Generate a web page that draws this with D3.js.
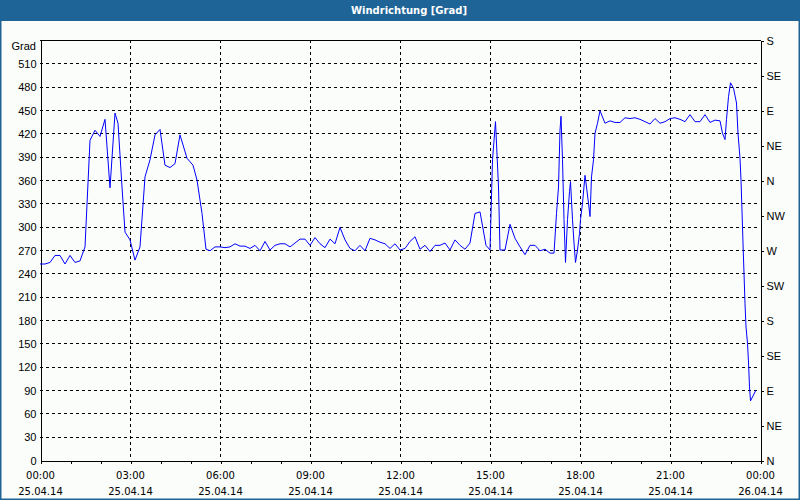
<!DOCTYPE html>
<html lang="de">
<head>
<meta charset="UTF-8">
<title>Windrichtung</title>
<script src="https://d3js.org/d3.v7.min.js"></script>
<style>
  body { margin: 0; background: #fbfdfb; }
  svg text { font-family: "DejaVu Sans", Verdana, sans-serif; font-size: 10px; fill: #000; }
  .grid line { stroke: #000; stroke-dasharray: 3,3; shape-rendering: crispEdges; }
  .axis path, .axis line { stroke: #000; shape-rendering: crispEdges; }
</style>
</head>
<body>
<svg id="chart"></svg>
<script>
// minutes since 25.04.14 00:00, wind direction in degrees
var minutes = [0, 10, 20, 30, 40, 50, 60, 70, 80, 90, 100, 110, 120, 130, 140, 150, 156, 164, 170, 180,
  190, 200, 210, 220, 230, 240, 250, 260, 270, 280, 294, 306, 314, 324, 332, 340, 350,
  360, 370, 380, 390, 400, 410, 420, 430, 440, 450, 460, 470, 480, 490, 500, 510, 520, 530,
  540, 550, 560, 570, 580, 590, 600, 610, 620, 630, 640, 650, 660, 670, 680, 690, 700, 710, 720,
  730, 740, 750, 760, 770, 780, 790, 800, 810, 820, 830, 840, 850, 860, 870, 880, 892, 900,
  905, 911, 917, 920, 930, 940, 950, 960, 970, 980, 990, 1000, 1010, 1020, 1028,
  1033, 1037, 1040, 1042, 1045, 1048, 1051, 1055, 1059, 1061, 1065, 1068, 1071, 1075, 1079,
  1081, 1085, 1090, 1093, 1097, 1100, 1103, 1107, 1110, 1115, 1120, 1130, 1140, 1150, 1160,
  1170, 1180, 1190, 1200, 1210, 1220, 1230, 1240, 1250, 1260, 1270, 1280, 1290, 1300, 1310,
  1320, 1330, 1340, 1350, 1360, 1365, 1370, 1373, 1377, 1381, 1387, 1393,
  1396, 1400, 1402, 1404, 1406, 1408, 1410, 1412, 1415, 1417, 1419, 1421, 1432];
var grad = [252, 252, 254, 263, 263, 252, 263, 254, 256, 274, 411, 424, 416, 438, 350, 446, 433, 351, 293, 283,
  257, 274, 364, 386, 418, 425, 379, 376, 381, 418, 388, 379, 360, 317, 271, 269, 274,
  274, 273, 274, 278, 275, 275, 272, 276, 269, 281, 270, 276, 278, 278, 274, 279, 284, 284,
  276, 286, 278, 273, 284, 278, 299, 283, 272, 269, 276, 269, 285, 283, 280, 278, 272, 278, 270,
  272, 281, 287, 271, 276, 268, 276, 276, 279, 270, 283, 276, 271, 279, 317, 319, 276, 270,
  386, 435, 351, 270, 270, 303, 285, 274, 264, 276, 276, 269, 271, 266, 266,
  317, 351, 424, 442, 386, 309, 254, 309, 345, 358, 309, 279, 254, 270, 291,
  309, 330, 366, 351, 330, 313, 364, 386, 420, 433, 449, 433, 436, 434, 434,
  440, 439, 440, 438, 435, 432, 439, 433, 435, 439, 440, 438, 435, 444, 435,
  435, 444, 434, 437, 436, 420, 412, 438, 467, 485, 478, 459,
  420, 388, 360, 320, 279, 240, 201, 171, 150, 126, 94, 76, 90];

var title = "Windrichtung [Grad]";
var unitLabel = "Grad";
var leftTicks = d3.range(0, 511, 30);
var compassTicks = d3.range(0, 541, 45);
var compassNames = ["N", "NE", "E", "SE", "S", "SW", "W", "NW", "N", "NE", "E", "SE", "S"];
var timeTicks = [0, 180, 360, 540, 720, 900, 1080, 1260, 1440];
var timeLabels = ["00:00", "03:00", "06:00", "09:00", "12:00", "15:00", "18:00", "21:00", "00:00"];
var dateLabels = ["25.04.14", "25.04.14", "25.04.14", "25.04.14", "25.04.14", "25.04.14", "25.04.14", "25.04.14", "26.04.14"];

var W = 800, H = 500;
var blue = "#1f6496";
var pLeft = 40, pRight = 760, pTop = 40, pBottom = 460;

var svg = d3.select("#chart").attr("width", W).attr("height", H);

svg.append("rect").attr("width", W).attr("height", H).attr("fill", "#fbfdfb");
svg.append("rect").attr("x", 0).attr("y", 0).attr("width", W).attr("height", 21).attr("fill", blue);
svg.append("text").attr("x", 409).attr("y", 10.5)
  .attr("text-anchor", "middle").attr("dominant-baseline", "central")
  .style("font-weight", "bold").style("fill", "#fff")
  .text(title);
svg.append("rect").attr("x", 0.75).attr("y", 0.75).attr("width", W - 1.5).attr("height", H - 1.5)
  .attr("fill", "none").attr("stroke", blue).attr("stroke-width", 1.5);

var x = d3.scaleLinear().domain([0, 1440]).range([pLeft, pRight]);
var y = d3.scaleLinear().domain([0, 540]).range([pBottom, pTop]);

// grid
var grid = svg.append("g").attr("class", "grid");
grid.selectAll(".h").data(leftTicks.filter(function (d) { return d > 0; }))
  .enter().append("line")
  .attr("x1", pLeft).attr("x2", pRight)
  .attr("y1", function (d) { return Math.round(y(d)) + 0.5; })
  .attr("y2", function (d) { return Math.round(y(d)) + 0.5; });
grid.selectAll(".v").data(timeTicks.slice(1, -1))
  .enter().append("line")
  .attr("y1", pTop).attr("y2", pBottom)
  .attr("x1", function (d) { return Math.round(x(d)) + 0.5; })
  .attr("x2", function (d) { return Math.round(x(d)) + 0.5; });

// frame top
svg.append("line").attr("x1", pLeft).attr("x2", pRight + 1)
  .attr("y1", pTop + 0.5).attr("y2", pTop + 0.5).attr("stroke", "#000")
  .style("shape-rendering", "crispEdges");

// left axis
var yAxis = svg.append("g").attr("class", "axis")
  .attr("transform", "translate(" + (pLeft + 0.5) + ",0.5)")
  .call(d3.axisLeft(y).tickValues(leftTicks).tickSize(0).tickPadding(4).tickSizeOuter(0));
yAxis.selectAll("text").style("font-size", "11px").style("font-family", "Liberation Sans, sans-serif");
svg.append("text").attr("x", 36).attr("y", 46).attr("text-anchor", "end")
  .attr("dominant-baseline", "central")
  .style("font-size", "11px").style("font-family", "Liberation Sans, sans-serif")
  .text(unitLabel);

// right axis
var rAxis = svg.append("g").attr("class", "axis")
  .attr("transform", "translate(" + (pRight + 0.5) + ",0.5)")
  .call(d3.axisRight(y).tickValues(compassTicks).tickSize(3).tickPadding(3).tickSizeOuter(0)
    .tickFormat(function (d, i) { return compassNames[i]; }));
rAxis.selectAll("text").style("font-size", "11px").style("font-family", "Liberation Sans, sans-serif");

// bottom axis
var xAxis = svg.append("g").attr("class", "axis")
  .attr("transform", "translate(0," + (pBottom + 0.5) + ")")
  .call(d3.axisBottom(x).tickValues(d3.range(0, 1441, 60)).tickSize(3).tickSizeOuter(0)
    .tickFormat(""));
xAxis.selectAll(".tick line").attr("transform", "translate(0.5,0)");

var tl = svg.append("g");
tl.selectAll(".t").data(timeTicks).enter().append("text")
  .attr("x", function (d) { return x(d) + 0.5; }).attr("y", 475)
  .attr("text-anchor", "middle").attr("dominant-baseline", "central")
  .text(function (d, i) { return timeLabels[i]; });
tl.selectAll(".d").data(timeTicks).enter().append("text")
  .attr("x", function (d) { return x(d) + 0.5; }).attr("y", 491)
  .attr("text-anchor", "middle").attr("dominant-baseline", "central")
  .text(function (d, i) { return dateLabels[i]; });

// line
var pts = minutes.map(function (m, i) { return [m, grad[i]]; });
svg.append("path").datum(pts)
  .attr("fill", "none").attr("stroke", "#0000ff").attr("stroke-width", 1)
  .attr("d", d3.line().x(function (d) { return x(d[0]); }).y(function (d) { return y(d[1]); }));
</script>
</body>
</html>
